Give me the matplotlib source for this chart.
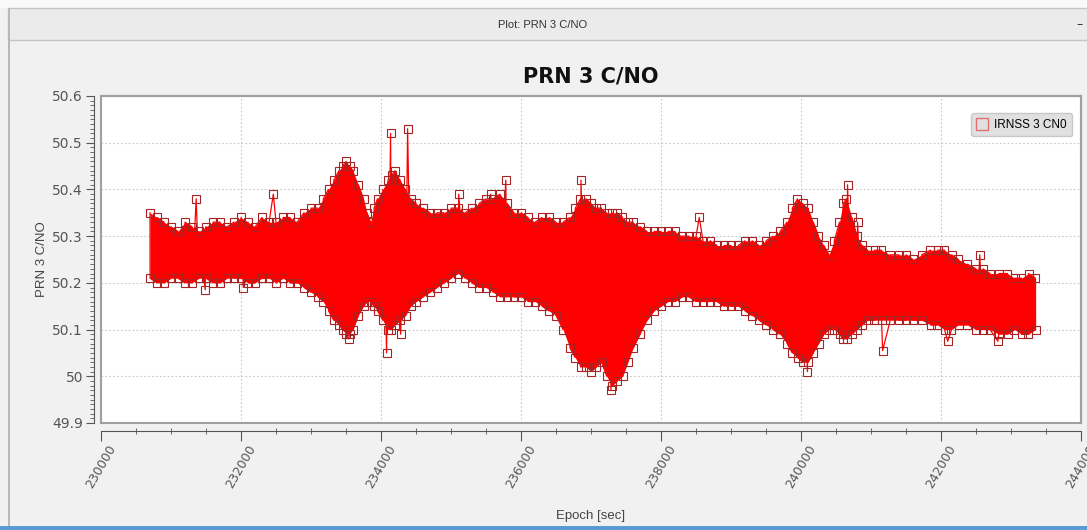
import matplotlib.pyplot as plt
from matplotlib.patches import Rectangle
from matplotlib.ticker import MultipleLocator
from matplotlib.lines import Line2D

# envelope of the C/N0 band (epoch [s], dB-Hz)
env_epoch = [230700, 230900, 231100, 231300, 231500, 231700, 231900, 232100,
             232300, 232500, 232700, 232900, 233100, 233250, 233400, 233500,
             233600, 233750, 233850, 233950, 234100, 234200, 234350, 234500,
             234700, 234900, 235100, 235300, 235500, 235700, 235900, 236100,
             236300, 236500, 236700, 236850, 237000, 237150, 237300, 237450,
             237600, 237800, 238000, 238200, 238400, 238600, 238800, 239000,
             239200, 239400, 239600, 239800, 239950, 240100, 240250, 240400,
             240550, 240650, 240800, 240950, 241150, 241400, 241600, 241850,
             242050, 242250, 242500, 242700, 242950, 243150, 243350]
env_upper = [50.35, 50.33, 50.31, 50.32, 50.32, 50.33, 50.33, 50.33,
             50.34, 50.33, 50.34, 50.35, 50.36, 50.40, 50.44, 50.46,
             50.44, 50.38, 50.33, 50.38, 50.42, 50.44, 50.40, 50.37,
             50.35, 50.35, 50.36, 50.36, 50.38, 50.39, 50.35, 50.34,
             50.34, 50.33, 50.34, 50.38, 50.37, 50.36, 50.35, 50.34,
             50.33, 50.31, 50.31, 50.31, 50.30, 50.29, 50.28, 50.28,
             50.29, 50.28, 50.30, 50.33, 50.38, 50.36, 50.30, 50.26,
             50.33, 50.38, 50.30, 50.27, 50.27, 50.26, 50.25, 50.27,
             50.27, 50.25, 50.23, 50.22, 50.22, 50.21, 50.21]
env_lower = [50.21, 50.20, 50.21, 50.20, 50.21, 50.20, 50.21, 50.20,
             50.21, 50.20, 50.20, 50.19, 50.17, 50.14, 50.11, 50.09,
             50.10, 50.15, 50.16, 50.14, 50.10, 50.11, 50.13, 50.16,
             50.18, 50.20, 50.22, 50.20, 50.19, 50.17, 50.17, 50.16,
             50.15, 50.13, 50.06, 50.02, 50.01, 50.03, 49.98, 50.00,
             50.06, 50.12, 50.15, 50.16, 50.17, 50.16, 50.16, 50.15,
             50.14, 50.12, 50.10, 50.07, 50.04, 50.03, 50.07, 50.10,
             50.09, 50.08, 50.10, 50.12, 50.12, 50.12, 50.12, 50.11,
             50.10, 50.11, 50.10, 50.10, 50.09, 50.09, 50.10]

# second set of readings taken between the ones above
mid_epoch = [230800, 231000, 231200, 231400, 231600, 231800, 232000, 232200,
             232400, 232600, 232800, 233000, 233175, 233325, 233450, 233550,
             233675, 233800, 233900, 234025, 234150, 234275, 234425, 234600,
             234800, 235000, 235200, 235400, 235600, 235800, 236000, 236200,
             236400, 236600, 236775, 236925, 237075, 237225, 237375, 237525,
             237700, 237900, 238100, 238300, 238500, 238700, 238900, 239100,
             239300, 239500, 239700, 239875, 240025, 240175, 240325, 240475,
             240600, 240725, 240875, 241050, 241275, 241500, 241725, 241950,
             242150, 242375, 242600, 242825, 243050, 243250]
mid_upper = [50.34, 50.32, 50.33, 50.31, 50.33, 50.32, 50.34, 50.32,
             50.33, 50.34, 50.33, 50.36, 50.38, 50.42, 50.45, 50.45,
             50.41, 50.35, 50.36, 50.40, 50.43, 50.42, 50.38, 50.36,
             50.35, 50.36, 50.35, 50.37, 50.38, 50.37, 50.35, 50.33,
             50.34, 50.33, 50.36, 50.38, 50.36, 50.35, 50.35, 50.33,
             50.32, 50.31, 50.31, 50.30, 50.30, 50.29, 50.28, 50.28,
             50.29, 50.29, 50.31, 50.36, 50.37, 50.33, 50.28, 50.29,
             50.37, 50.34, 50.28, 50.27, 50.26, 50.26, 50.26, 50.27,
             50.26, 50.24, 50.23, 50.22, 50.21, 50.22]
mid_lower = [50.20, 50.21, 50.20, 50.21, 50.20, 50.21, 50.21, 50.20,
             50.21, 50.21, 50.20, 50.18, 50.16, 50.12, 50.10, 50.09,
             50.13, 50.16, 50.15, 50.12, 50.10, 50.12, 50.15, 50.17,
             50.19, 50.21, 50.21, 50.19, 50.18, 50.17, 50.17, 50.16,
             50.14, 50.10, 50.04, 50.02, 50.02, 50.00, 49.99, 50.03,
             50.09, 50.14, 50.16, 50.17, 50.16, 50.16, 50.15, 50.15,
             50.13, 50.11, 50.09, 50.05, 50.03, 50.05, 50.09, 50.10,
             50.08, 50.09, 50.11, 50.12, 50.12, 50.12, 50.12, 50.11,
             50.10, 50.11, 50.10, 50.09, 50.10, 50.09]

# isolated samples that stick out of the band
out_epoch = [231360, 231489, 232033, 232462, 233540, 234080, 234137, 234280,
             234380, 235110, 235568, 235783, 236857, 237286, 238546, 240092,
             240665, 240808, 241166, 242096, 242554, 242812]
out_value = [50.38, 50.185, 50.19, 50.39, 50.08, 50.05, 50.52, 50.09,
             50.53, 50.39, 50.39, 50.42, 50.42, 49.97, 50.34, 50.01,
             50.41, 50.33, 50.055, 50.075, 50.26, 50.075]

x_ticks = [230000, 232000, 234000, 236000, 238000, 240000, 242000, 244000]

pts = []
for e, u, l in zip(env_epoch, env_upper, env_lower):
    pts.append((e, u))
    pts.append((e + 1, l))
for e, u, l in zip(mid_epoch, mid_upper, mid_lower):
    pts.append((e, l))
    pts.append((e + 1, u))
pts += list(zip(out_epoch, out_value))
pts.sort()
sx = [p[0] for p in pts]
sy = [p[1] for p in pts]

band = sorted(zip(env_epoch + mid_epoch, env_upper + mid_upper, env_lower + mid_lower))
bx = [b[0] for b in band]
bu = [b[1] for b in band]
bl = [b[2] for b in band]

narrow = 'Liberation Sans'

fig = plt.figure(figsize=(10.87, 5.30), dpi=100, facecolor='#f1f1f1')

# window chrome
fig.patches.append(Rectangle((0, 1 - 8 / 530), 1, 8 / 530, transform=fig.transFigure,
                             facecolor='#fafafa', edgecolor='none', zorder=-2))
fig.patches.append(Rectangle((8 / 1087, 1 - 40 / 530), 1, 32 / 530, transform=fig.transFigure,
                             facecolor='#ebebeb', edgecolor='#c4c4c4', lw=1.0, zorder=-1))
fig.patches.append(Rectangle((8 / 1087, 0), 1.5 / 1087, 1 - 8 / 530, transform=fig.transFigure,
                             facecolor='#b8b8b8', edgecolor='none', zorder=-1))
fig.patches.append(Rectangle((0, 0), 1, 4 / 530, transform=fig.transFigure,
                             facecolor='#5b9bd5', edgecolor='none', zorder=-1))
fig.text(543 / 1087, 1 - 25 / 530, 'Plot: PRN 3 C/NO', ha='center', va='center',
         fontsize=8, color='#333333', family=narrow)
fig.text(1080 / 1087, 1 - 25 / 530, '–', ha='center', va='center', fontsize=9, color='#333333')

ax = fig.add_axes([101 / 1087, 1 - 423 / 530, 980 / 1087, 327 / 530])
ax.set_facecolor('white')

ax.fill_between(bx, bl, bu, color='#ff0000', lw=0, zorder=2)
ax.plot(sx, sy, color='#ff0000', lw=0.9, marker='s', markersize=5.5,
        markerfacecolor='none', markeredgecolor='#a82424', markeredgewidth=0.8, zorder=3)

ax.set_xlim(230000, 244000)
ax.set_ylim(49.9, 50.6)
ax.set_xticks(x_ticks)
ax.set_xticklabels([str(t) for t in x_ticks])
ax.xaxis.set_minor_locator(MultipleLocator(500))
ax.yaxis.set_minor_locator(MultipleLocator(0.01))
ax.set_yticks([49.9 + 0.1 * i for i in range(8)])
ax.set_yticklabels([f'{49.9 + 0.1 * i:.1f}'.rstrip('0').rstrip('.') for i in range(8)])
ax.tick_params(axis='y', which='major', direction='out', length=6, labelsize=10,
               colors='#555555', pad=2)
ax.tick_params(axis='y', which='minor', direction='out', length=3, color='#555555')
ax.tick_params(axis='x', which='major', direction='out', length=7, labelsize=9,
               colors='#555555', pad=1, labelrotation=60)
ax.tick_params(axis='x', which='minor', direction='inout', length=5, color='#555555')
for lab in ax.get_xticklabels():
    lab.set_ha('right')
    lab.set_va('top')
    lab.set_rotation_mode('anchor')
    lab.set_family(narrow)
for lab in ax.get_yticklabels():
    lab.set_family(narrow)

ax.grid(True, which='major', color='#c8c8c8', linestyle=(0, (1.5, 2)), lw=0.8)
for s in ['top', 'right']:
    ax.spines[s].set_color('#a0a0a0')
    ax.spines[s].set_linewidth(1.5)
ax.add_patch(Rectangle((0, 0), 1, 1, transform=ax.transAxes, fill=False,
                       edgecolor='#a0a0a0', lw=1.5, clip_on=False, zorder=5))
ax.spines['left'].set_position(('outward', 5))
ax.spines['bottom'].set_position(('outward', 6))
ax.spines['left'].set_color('#555555')
ax.spines['bottom'].set_color('#555555')

ax.set_title('PRN 3 C/NO', fontsize=15, fontweight='bold', pad=10, color='#111111')
ax.set_ylabel('PRN 3 C/NO', fontsize=9.5, color='#444444', labelpad=3, family=narrow)
ax.set_xlabel('Epoch [sec]', fontsize=9.5, color='#444444', labelpad=14, family=narrow)

handle = Line2D([], [], color='none', marker='s', markersize=9,
                markerfacecolor='none', markeredgecolor='#e07070', markeredgewidth=1)
leg = ax.legend([handle], ['IRNSS 3 CN0'], loc='upper right', frameon=True,
                fancybox=True, facecolor='#e0e0e0', edgecolor='#c8c8c8',
                handlelength=0.9, handletextpad=0.6, borderpad=0.45,
                bbox_to_anchor=(0.997, 0.965), prop={'family': narrow, 'size': 8.5})
leg.get_frame().set_alpha(1)

fig.savefig('out.png', dpi=100, facecolor=fig.get_facecolor())
